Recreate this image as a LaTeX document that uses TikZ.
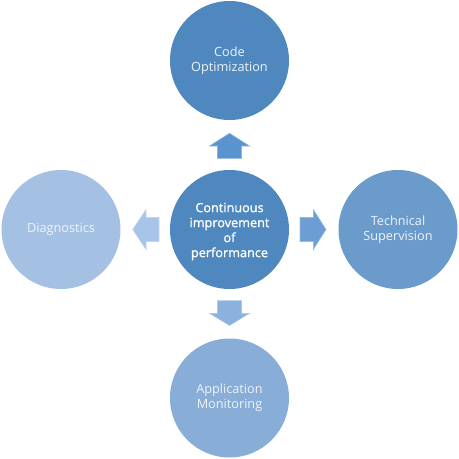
\documentclass[tikz,border=0pt]{standalone}
\usepackage{fontspec}
\setmainfont{Open Sans}
\newfontfamily\semib[FakeBold=1.2]{Open Sans}
\definecolor{cdark}{HTML}{4F88BF}
\definecolor{cright}{HTML}{6A9BCB}
\definecolor{cbottom}{HTML}{88ADD6}
\definecolor{cleft}{HTML}{A4C1E4}
\definecolor{aup}{HTML}{5A94CF}
\definecolor{aright}{HTML}{6C9ED4}
\definecolor{adown}{HTML}{8BB1DF}
\definecolor{aleft}{HTML}{A7C4E9}
\definecolor{txt}{HTML}{EEF3F9}
\begin{document}
\begin{tikzpicture}[x=1pt,y=-1pt,
  bub/.style={circle,minimum size=119pt,inner sep=0pt,align=center,text=txt,
    font=\fontsize{12.7}{15}\selectfont},
  blk/.style={line width=0.6pt,line join=miter}]
\useasboundingbox (0,0) rectangle (459,459);
\node[bub,fill=cdark] (top) at (229.5,60.5) {Code\\Optimization};
\node[bub,fill=cdark] (c) at (229.5,229.5) {};
\node[text=white,align=center,inner sep=0pt,font=\fontsize{12.7}{15}\selectfont\semib] (ct) at ([yshift=-2pt]c.center) {Continuous\\improvement\\of\\performance};
\node[bub,fill=cright] (r) at (398,229.5) {Technical\\Supervision};
\node[bub,fill=cbottom] (b) at (229.5,398) {Application\\Monitoring};
\node[bub,fill=cleft] (l) at (61,229.5) {Diagnostics};
% block arrows
\filldraw[blk,fill=aup,draw=aup!70!white] (229.5,133.3) -- (249.5,146) -- (241.5,146) -- (241.5,158.3) -- (217.5,158.3) -- (217.5,146) -- (209.5,146) -- cycle;
\filldraw[blk,fill=aright,draw=aright!70!white] (326,229.5) -- (313.3,249.5) -- (313.3,241.5) -- (300,241.5) -- (300,217.5) -- (313.3,217.5) -- (313.3,209.5) -- cycle;
\filldraw[blk,fill=adown,draw=adown!70!white] (229.5,325.5) -- (249.5,313.3) -- (241.5,313.3) -- (241.5,300.7) -- (217.5,300.7) -- (217.5,313.3) -- (209.5,313.3) -- cycle;
\filldraw[blk,fill=aleft,draw=aleft!70!white] (132.7,229.5) -- (146,249.5) -- (146,241.5) -- (159,241.5) -- (159,217.5) -- (146,217.5) -- (146,209.5) -- cycle;
\end{tikzpicture}
\end{document}
